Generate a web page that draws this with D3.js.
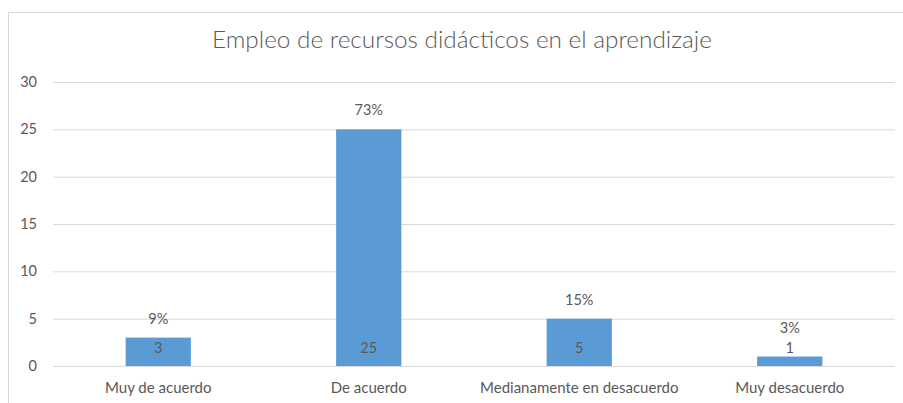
<!DOCTYPE html>
<html>
<head>
<meta charset="utf-8">
<script src="https://cdn.jsdelivr.net/npm/d3@7"></script>
<style>
  body { margin: 0; background: #fff; }
  text { font-family: Lato, "Open Sans", sans-serif; fill: #595959; }
</style>
</head>
<body>
<div id="chart"></div>
<script>
// data
const categories = ["Muy de acuerdo", "De acuerdo", "Medianamente en desacuerdo", "Muy desacuerdo"];
const values = [3, 25, 5, 1];
const percents = ["9%", "73%", "15%", "3%"];
const yTicks = [0, 5, 10, 15, 20, 25, 30];
const title = "Empleo de recursos didácticos en el aprendizaje";

const width = 903, height = 403;
const margin = {top: 82, right: 8, bottom: 37, left: 53};

const svg = d3.select("#chart").append("svg")
    .attr("width", width)
    .attr("height", height);

// outer chart frame (runs off the right and bottom edge)
svg.append("rect")
    .attr("x", 8.5).attr("y", 12.5)
    .attr("width", 910).attr("height", 420)
    .attr("fill", "none")
    .attr("stroke", "#d9d9d9");

const x = d3.scaleBand()
    .domain(categories)
    .range([margin.left, width - margin.right])
    .paddingInner(0.69)
    .paddingOuter(0.345);

const y = d3.scaleLinear()
    .domain([0, 30])
    .range([height - margin.bottom, margin.top]);

// gridlines + y labels
const yAxis = d3.axisLeft(y)
    .tickValues(yTicks)
    .tickSize(-(width - margin.right - margin.left))
    .tickPadding(16);

svg.append("g")
    .attr("transform", `translate(${margin.left},0)`)
    .call(yAxis)
    .call(g => g.select(".domain").remove())
    .call(g => g.selectAll("line").attr("stroke", "#d9d9d9"))
    .call(g => g.selectAll("text").attr("font-size", 14.5).style("fill", "#595959"));

svg.selectAll(".bar")
    .data(values)
    .join("rect")
    .attr("class", "bar")
    .attr("x", (d, i) => x(categories[i]))
    .attr("y", d => y(d))
    .attr("width", x.bandwidth())
    .attr("height", d => y(0) - y(d))
    .attr("fill", "#5b9bd5");

// x category labels
const xAxis = d3.axisBottom(x).tickSize(0).tickPadding(16);
svg.append("g")
    .attr("transform", `translate(0,${y(0)})`)
    .call(xAxis)
    .call(g => g.select(".domain").remove())
    .call(g => g.selectAll("text").attr("font-size", 15).style("fill", "#595959"));

// value labels sit near the base
svg.selectAll(".val")
    .data(values)
    .join("text")
    .attr("class", "val")
    .attr("x", (d, i) => x(categories[i]) + x.bandwidth() / 2)
    .attr("y", y(0) - 13)
    .attr("text-anchor", "middle")
    .attr("font-size", 14.5)
    .text(d => d);

// percentage labels above bars
svg.selectAll(".pct")
    .data(values)
    .join("text")
    .attr("class", "pct")
    .attr("x", (d, i) => x(categories[i]) + x.bandwidth() / 2)
    .attr("y", d => Math.min(y(d) - 14, y(0) - 33))
    .attr("text-anchor", "middle")
    .attr("font-size", 14.5)
    .text((d, i) => percents[i]);

const t = svg.append("text")
    .attr("x", 462)
    .attr("y", 48)
    .attr("text-anchor", "middle")
    .attr("font-size", 20)
    .style("font-weight", 300)
    .text(title);
// size the title to the reference width
const tw = t.node().getComputedTextLength();
t.attr("font-size", 20 * 500 / tw);
</script>
</body>
</html>
